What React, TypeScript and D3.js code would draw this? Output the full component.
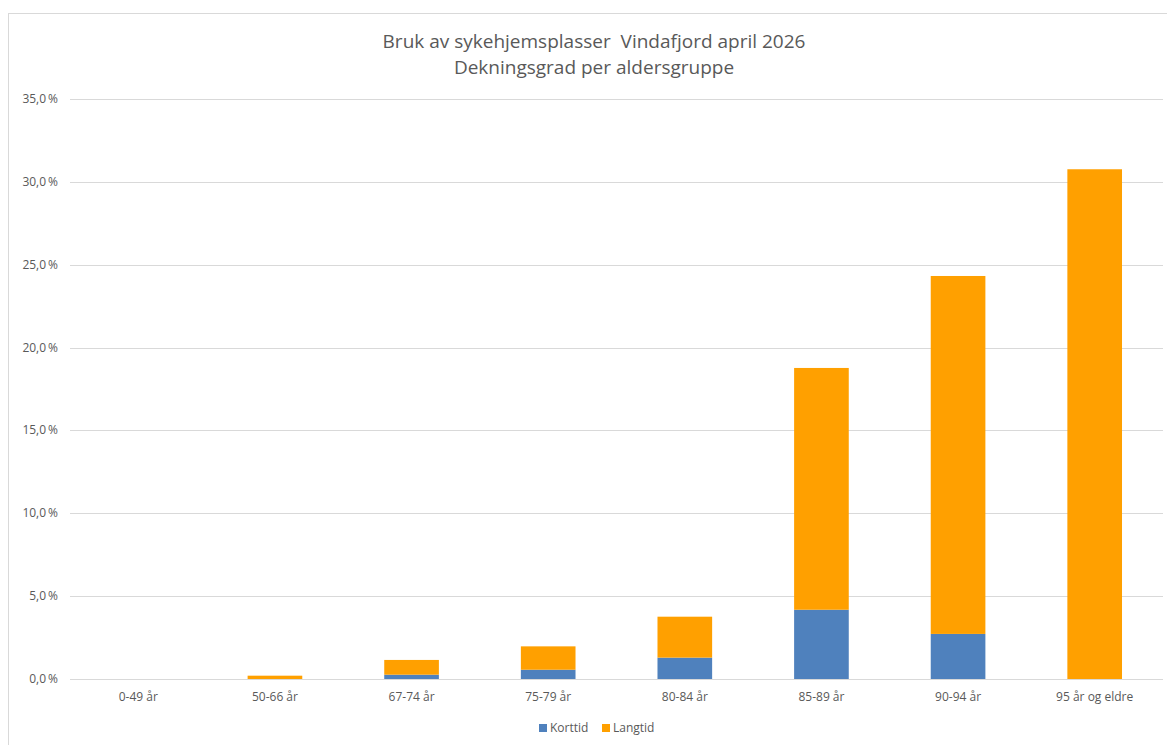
import { useRef, useEffect } from 'react';
import * as d3 from 'd3';

const categories = ['0-49 år', '50-66 år', '67-74 år', '75-79 år', '80-84 år', '85-89 år', '90-94 år', '95 år og eldre'];
const korttid = [0, 0, 0.26, 0.56, 1.29, 4.18, 2.72, 0];
const langtid = [0, 0.2, 0.89, 1.41, 2.47, 14.59, 21.6, 30.76];
const yTicks = [0, 5, 10, 15, 20, 25, 30, 35];
const seriesNames = ['Korttid', 'Langtid'];
const colors = ['#4F81BD', '#FFA000'];

const width = 1167;
const height = 745;

function App() {
  const svgRef = useRef<SVGSVGElement>(null);

  useEffect(() => {
    const svg = d3.select(svgRef.current);
    svg.selectAll('*').remove();
    const font = 'Open Sans, sans-serif';
    const textColor = '#595959';

    svg
      .append('rect')
      .attr('x', 8.5)
      .attr('y', 13.5)
      .attr('width', width + 10)
      .attr('height', height)
      .attr('fill', 'white')
      .attr('stroke', '#d9d9d9');

    const x = d3.scaleBand().domain(categories).range([70, 1163]).paddingInner(0.6).paddingOuter(0.3);
    const y = d3.scaleLinear().domain([0, 35]).range([679, 99]);

    const grid = svg.append('g');
    grid
      .selectAll('line')
      .data(yTicks)
      .enter()
      .append('line')
      .attr('x1', 70)
      .attr('x2', 1163)
      .attr('y1', d => Math.round(y(d)) + 0.5)
      .attr('y2', d => Math.round(y(d)) + 0.5)
      .attr('stroke', '#d9d9d9')
      .attr('stroke-width', 1);

    grid
      .selectAll('text')
      .data(yTicks)
      .enter()
      .append('text')
      .attr('x', 58)
      .attr('y', d => y(d) + 4)
      .attr('text-anchor', 'end')
      .style('font-family', font)
      .style('font-size', '12px')
      .style('fill', textColor)
      .text(d => d3.format('.1f')(d).replace('.', ',') + '\u2009%');

    const rows = categories.map((c, i) => ({ cat: c, Korttid: korttid[i], Langtid: langtid[i] }));
    const stacked = d3.stack<any>().keys(seriesNames)(rows);

    svg
      .append('g')
      .selectAll('g')
      .data(stacked)
      .enter()
      .append('g')
      .attr('fill', (d, i) => colors[i])
      .selectAll('rect')
      .data(d => d)
      .enter()
      .append('rect')
      .attr('x', d => x(d.data.cat)!)
      .attr('width', x.bandwidth())
      .attr('y', d => y(d[1]))
      .attr('height', d => Math.max(0, y(d[0]) - y(d[1])));

    svg
      .append('g')
      .selectAll('text')
      .data(categories)
      .enter()
      .append('text')
      .attr('x', d => x(d)! + x.bandwidth() / 2)
      .attr('y', 701)
      .attr('text-anchor', 'middle')
      .style('font-family', font)
      .style('font-size', '12px')
      .style('fill', textColor)
      .text(d => d);

    const title = svg
      .append('text')
      .attr('x', 594)
      .attr('y', 48)
      .attr('text-anchor', 'middle')
      .style('font-family', font)
      .style('font-size', '19px')
      .style('white-space', 'pre')
      .style('fill', textColor);
    title.append('tspan').attr('x', 594).text('Bruk av sykehjemsplasser  Vindafjord april 2026');
    title.append('tspan').attr('x', 594).attr('dy', 26).text('Dekningsgrad per aldersgruppe');

    const legend = svg
      .append('g')
      .selectAll('g')
      .data(seriesNames)
      .enter()
      .append('g')
      .attr('transform', (d, i) => `translate(${539 + i * 63},724)`);
    legend
      .append('rect')
      .attr('width', 8)
      .attr('height', 8)
      .attr('fill', (d, i) => colors[i]);
    legend
      .append('text')
      .attr('x', 11)
      .attr('y', 8)
      .style('font-family', font)
      .style('font-size', '12px')
      .style('fill', textColor)
      .text(d => d);
  }, []);

  return <svg ref={svgRef} width={width} height={height} style={{ position: 'absolute', left: 0, top: 0 }} />;
}

export default App;
